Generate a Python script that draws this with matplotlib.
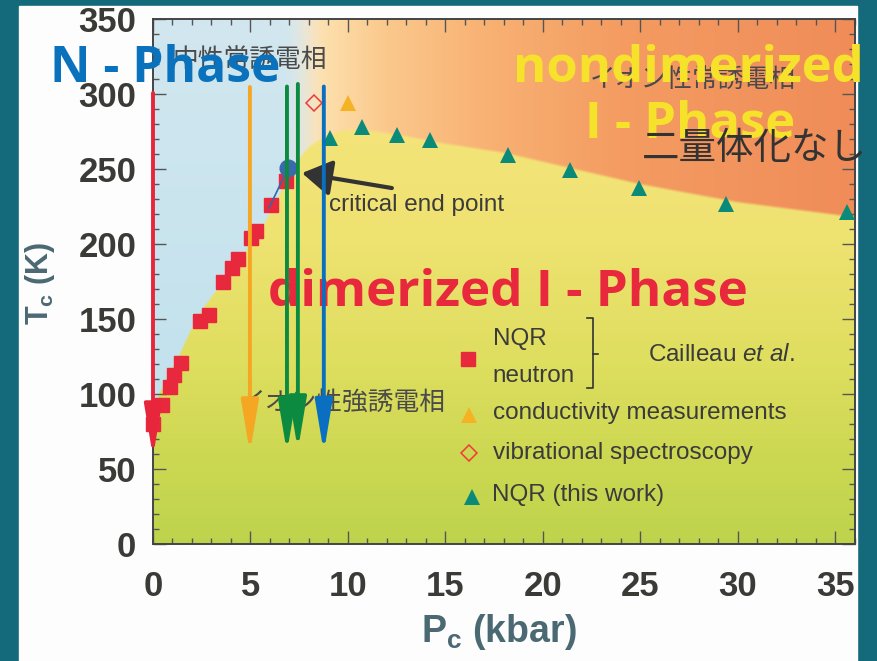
import numpy as np
import matplotlib
matplotlib.use("Agg")
import matplotlib.pyplot as plt
from matplotlib.patches import Rectangle
from matplotlib.ticker import MultipleLocator

W, H = 878, 661

# --- data ---
# Cailleau et al. (NQR / neutron)
sq_p = [0.0, 0.45, 0.85, 1.1, 1.45, 2.4, 2.85, 3.6, 4.05, 4.35, 5.05, 5.3, 6.05, 6.8]
sq_t = [80, 93, 105, 113, 121, 149, 153, 175, 184, 190, 204, 209, 226, 242]
# NQR (this work)
nqr_p = [9.07, 10.71, 12.51, 14.2, 18.2, 21.37, 24.91, 29.37, 35.57]
nqr_t = [271, 278, 272.7, 269.3, 259.3, 249.3, 237.3, 226.7, 221.3]
# conductivity / vibrational spectroscopy
cond_p, cond_t = [10.0], [294]
vib_p, vib_t = [8.25], [294]
# critical end point
cep_p, cep_t = 6.92, 250.5

# phase boundary of the dimerized region
bnd_p = [0, 0.3, 0.8, 1.3, 1.9, 2.6, 3.4, 4.2, 5.0, 5.7, 6.3, 6.9, 7.4, 8.0,
         8.8, 9.8, 11, 13, 15, 18, 21, 25, 30, 36]
bnd_t = [88, 100, 113, 125, 142, 158, 172, 186, 200, 214, 228, 245, 256, 265,
         272, 276, 276, 272, 267, 261, 252, 240, 228, 218]

# vertical arrows
arrow_p = [0.0, 4.97, 6.87, 7.43, 8.76]
arrow_top = [300.7, 304.7, 305, 306.7, 305]
arrow_tip = [58, 60.7, 61, 62.7, 61]
arrow_col = ["#e8263b", "#f5a623", "#0b8a40", "#0b8a40", "#0a6fc0"]

xticks = [0, 5, 10, 15, 20, 25, 30, 35]
yticks = [0, 50, 100, 150, 200, 250, 300, 350]

plt.rcParams["mathtext.fontset"] = "custom"
plt.rcParams["mathtext.rm"] = "Liberation Sans"
plt.rcParams["mathtext.it"] = "Liberation Sans:italic"
plt.rcParams["mathtext.bf"] = "Liberation Sans:bold"

fig = plt.figure(figsize=(W / 100, H / 100), dpi=100)
fig.patch.set_facecolor("#146a7a")
fig.add_artist(Rectangle((19 / W, 0), (857 - 19) / W, (661 - 6) / H,
                         transform=fig.transFigure, color="#fdfdfd", zorder=-10))

ax = fig.add_axes([153 / W, 1 - 544 / H, (855 - 153) / W, 525 / H])
ax.set_xlim(0, 36)
ax.set_ylim(0, 350)


def fp(px, py):
    return px / W, 1 - py / H


# --- background ---
xg = np.linspace(0, 36, 720)
yg = np.linspace(0, 350, 700)
X, Y = np.meshgrid(xg, yg)
bnd = np.interp(X, bnd_p, bnd_t)
below = np.clip((bnd - Y) / 2.0 + 0.5, 0, 1)[..., None]

ky = [0, 60, 120, 200, 280]
yel = np.stack([np.interp(Y, ky, c) for c in
                ([190, 205, 222, 238, 244], [211, 216, 222, 226, 228], [76, 82, 95, 112, 122])], -1)
blue = np.stack([np.interp(Y, [0, 350], c) for c in
                 ([188, 210], [224, 231], [236, 239])], -1)
ox = [6.6, 9, 12, 17, 24, 36]
orange = np.stack([np.interp(X, ox, c) for c in
                   ([252, 253, 251, 248, 244, 240], [236, 222, 200, 178, 156, 140],
                    [215, 170, 140, 115, 98, 88])], -1)
s = np.clip((X - 6.6) / 2.2, 0, 1)
s = (s * s * (3 - 2 * s))[..., None]
top = (1 - s) * blue + s * orange
img = below * yel + (1 - below) * top
ax.imshow(img / 255, extent=[0, 36, 0, 350], origin="lower", aspect="auto",
          interpolation="bilinear", zorder=0)

# --- axes styling ---
ax.set_xticks(xticks)
ax.set_yticks(yticks)
ax.xaxis.set_minor_locator(MultipleLocator(1))
ax.yaxis.set_minor_locator(MultipleLocator(10))
ax.tick_params(which="both", direction="in", top=True, right=True, color="#555555", width=1)
ax.tick_params(which="major", length=9.5)
ax.tick_params(which="minor", length=4)
ax.tick_params(axis="x", pad=19)
ax.tick_params(axis="y", pad=12)
for lab in ax.get_xticklabels() + ax.get_yticklabels():
    lab.set_fontfamily("Liberation Sans")
    lab.set_fontweight("bold")
    lab.set_fontsize(25)
    lab.set_color("#3a3a36")
for sp in ax.spines.values():
    sp.set_color("#444444")
    sp.set_linewidth(1.4)

lab_col = "#4b6973"
ax.set_xlabel(r"P$_\mathbf{c}$ (kbar)", fontsize=27, fontweight="bold",
              family="Liberation Sans", color=lab_col, va="center")
ax.xaxis.set_label_coords(0.493, -0.168)
ax.set_ylabel(r"T$_\mathbf{c}$ (K)", fontsize=22, fontweight="bold",
              family="Liberation Sans", color=lab_col, va="center", ha="center")
ax.yaxis.set_label_coords(-0.161, 0.497)

# --- Japanese labels ---
jp = dict(family="Noto Sans CJK JP", color="#4a4a4a", fontsize=18.5, va="center",
          ha="left", transform=fig.transFigure, zorder=2)
ax.text(*fp(173, 61), "中性常誘電相", **jp)
ax.text(*fp(590, 81), "イオン性常誘電相", **jp)
ax.text(*fp(240, 403), "イオン性強誘電相", **jp)

# --- data marks ---
ax.plot(sq_p, sq_t, "s", color="#e8293d", ms=10, mec="#e8293d", zorder=3, clip_on=False)
ax.plot(nqr_p, nqr_t, "^", color="#0a8a78", ms=12, mew=0, zorder=3, clip_on=False)
ax.plot(cond_p, cond_t, "^", color="#f5b324", ms=12, mew=0, zorder=3)
ax.plot(vib_p, vib_t, "D", mfc="none", mec="#ef3a3a", ms=8.5, mew=1.1, zorder=3)
ax.plot([cep_p, 5.95], [cep_t, 224], "-", color="#3566a8", lw=1.2, zorder=3)
ax.plot([cep_p], [cep_t], "o", color="#3a6aac", ms=12, zorder=3)

ax.annotate("", xy=(7.64, 247.3), xytext=(12.25, 237.3), zorder=3,
            arrowprops=dict(arrowstyle="-|>,head_length=0.9,head_width=0.55",
                            mutation_scale=20, lw=3, color="#333333",
                            shrinkA=0, shrinkB=0))
ax.text(9.05, 226, "critical end point", family="Liberation Sans", fontsize=17.5,
        color="#3b3b3b", va="center", ha="left", zorder=3)

# --- legend (hand placed) ---
ax.plot([16.15], [123.3], "s", color="#e8293d", ms=10, zorder=3)
ax.plot([16.2], [86], "^", color="#f5b324", ms=12, mew=0, zorder=3)
ax.plot([16.2], [60.7], "D", mfc="none", mec="#ef3a3a", ms=8.5, mew=1.1, zorder=3)
ax.plot([16.35], [31.3], "^", color="#0a8a78", ms=12, mew=0, zorder=3)
lg = dict(family="Liberation Sans", fontsize=17.5, color="#3b3b3b", va="center",
          ha="left", zorder=3)
ax.text(17.43, 136.7, "NQR", **lg)
ax.text(17.43, 112, "neutron", **lg)
ax.text(17.43, 87.3, "conductivity measurements", **lg)
ax.text(17.43, 60.7, "vibrational spectroscopy", **lg)
ax.text(17.38, 32.7, "NQR (this work)", **lg)
ax.text(25.37, 126, r"Cailleau $\mathit{et\ al.}$", **lg)
ax.plot([22.25, 22.55, 22.55, 22.25], [150.7, 150.7, 104, 104], color="#333333",
        lw=1.2, zorder=3)
ax.plot([22.55, 22.8], [127, 127], color="#333333", lw=1.2, zorder=3)

# --- vertical arrows ---
for p, t0, t1, c in zip(arrow_p, arrow_top, arrow_tip, arrow_col):
    ax.annotate("", xy=(p, t1), xytext=(p, t0), zorder=6, annotation_clip=False,
                arrowprops=dict(arrowstyle="-|>,head_length=1.55,head_width=0.26",
                                mutation_scale=20, lw=2.8, color=c,
                                shrinkA=0, shrinkB=0))

# --- phase labels ---
big = dict(family="Open Sans", fontweight="bold", va="baseline",
           transform=fig.transFigure)
ax.text(*fp(50, 82), "N - Phase", color="#0a72bd", ha="left", zorder=7,
        fontsize=35.8, **big)
ax.text(*fp(688, 82), "nondimerized", color="#f7e22b", ha="center", zorder=5,
        fontsize=36.5, **big)
ax.text(*fp(690, 138), "I - Phase", color="#f7e22b", ha="center", zorder=5,
        fontsize=36.5, **big)
ax.text(*fp(268, 306), "dimerized I - Phase", color="#e8283c", ha="left", zorder=5,
        fontsize=36.8, **big)
ax.text(*fp(642, 148), "二量体化なし", family="Noto Sans CJK JP", color="#333333",
        fontsize=27, va="center", ha="left", transform=fig.transFigure, zorder=5.5)

fig.savefig("out.png", dpi=100, facecolor=fig.get_facecolor())
